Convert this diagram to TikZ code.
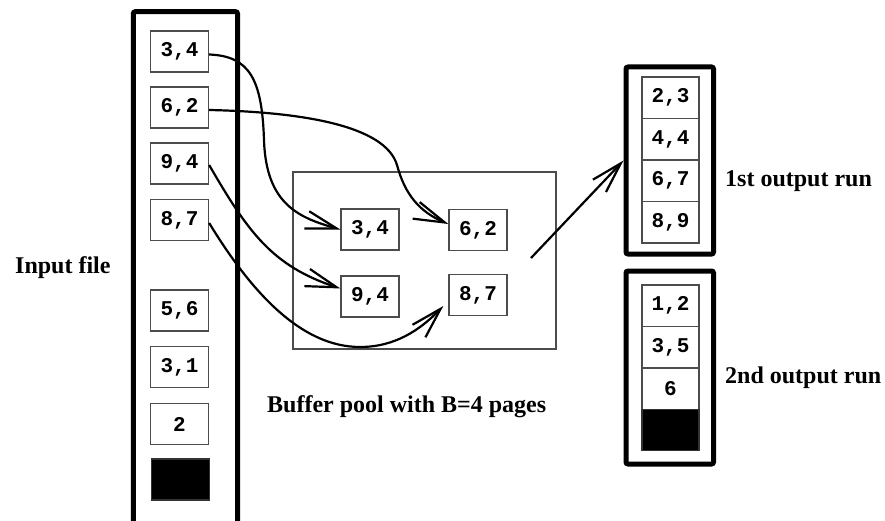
\documentclass[tikz,border=0pt]{standalone}
\usepackage{fontspec}
\setmainfont{Liberation Serif}
\newfontfamily\monofam{Liberation Mono}
\usetikzlibrary{arrows.meta}

\begin{document}
\begin{tikzpicture}[x=1pt,y=-1pt,
  cell/.style={draw=black!70, line width=1.3pt, minimum width=58pt, minimum height=41pt,
               inner sep=0pt, font=\monofam\bfseries\fontsize{21}{21}\selectfont},
  runcell/.style={cell, minimum width=57pt, minimum height=41.5pt},
  hole/.style={fill=black, draw=black!80},
  frame/.style={draw, line width=5pt, rounded corners=2pt, inner sep=0pt},
  pool/.style={draw=black!70, line width=1.4pt, inner sep=0pt},
  flow/.style={line width=2.2pt, -{Straight Barb[length=31pt,width=18pt]}},
  caption/.style={anchor=base west, inner sep=0pt, font=\bfseries\fontsize{24}{24}\selectfont}]

\useasboundingbox (0,0) rectangle (885,521);
\fill[white] (0,0) rectangle (885,521);

% input file: column open at the bottom edge
\draw[line width=5pt, rounded corners=2pt] (133.3,535) -- (133.3,11.7) -- (237.5,11.7) -- (237.5,535);
\node[cell] (in34) at (179.5,51.5) {3,4};
\node[cell] (in62) at (179.5,107.5) {6,2};
\node[cell] (in94) at (179.5,163.5) {9,4};
\node[cell] (in87) at (179.5,220) {8,7};
\node[cell] (in56) at (179.5,310.5) {5,6};
\node[cell] (in31) at (179.5,367) {3,1};
\node[cell] (in2)  at (179.5,424) {2};
\node[cell, hole] (inend) at (180.5,479.5) {};

% buffer pool
\node[pool, minimum width=263pt, minimum height=177pt] (pool) at (424.5,260.5) {};
\node[cell] (buf34) at (370,229.5) {3,4};
\node[cell] (buf62) at (478,230) {6,2};
\node[cell] (buf94) at (370,296.5) {9,4};
\node[cell] (buf87) at (478,295) {8,7};

% output runs
\node[frame, minimum width=87.5pt, minimum height=187pt] (run1) at (669.75,160.5) {};
\node[runcell] (r1a) at (670.5,97.75) {2,3};
\node[runcell] (r1b) at (670.5,139.25) {4,4};
\node[runcell] (r1c) at (670.5,180.75) {6,7};
\node[runcell] (r1d) at (670.5,222.25) {8,9};

\node[frame, minimum width=87.5pt, minimum height=193pt] (run2) at (669.75,367.5) {};
\node[runcell] (r2a) at (670.5,305.75) {1,2};
\node[runcell] (r2b) at (670.5,347.25) {3,5};
\node[runcell] (r2c) at (670.5,388.75) {6};
\node[runcell, hole] (r2d) at (670.5,430) {};

% captions
\node[caption] (lblin) at (15,273) {Input file};
\node[caption] (lblpool) at (267,412) {Buffer pool with B=4 pages};
\node[caption] (lblrun1) at (725,187) {1st output run};
\node[caption] (lblrun2) at (725,383) {2nd output run};

% pages read into the buffer pool
\draw[flow] ([yshift=-3pt]in34.east) .. controls (250,56) and (262,80) .. (264,140)
            .. controls (266,205) and (300,218) .. (buf34.west);
\draw[flow] ([yshift=-2.5pt]in62.east) .. controls (300,112) and (385,125) .. (397,165)
            .. controls (405,195) and (420,212) .. ([yshift=6pt]buf62.west);
\draw[flow] ([yshift=-1.5pt]in94.east) .. controls (248,232) and (272,266) .. ([yshift=8pt]buf94.west);
\draw[flow] ([yshift=-3pt]in87.east) .. controls (250,290) and (300,347) .. (360,347)
            .. controls (395,347) and (420,330) .. ([shift={(-5pt,-11pt)}]buf87.west);

% sorted run written out
\coordinate (poolout) at (531,258);
\draw[flow] (poolout) -- (run1.west);
\end{tikzpicture}
\end{document}
